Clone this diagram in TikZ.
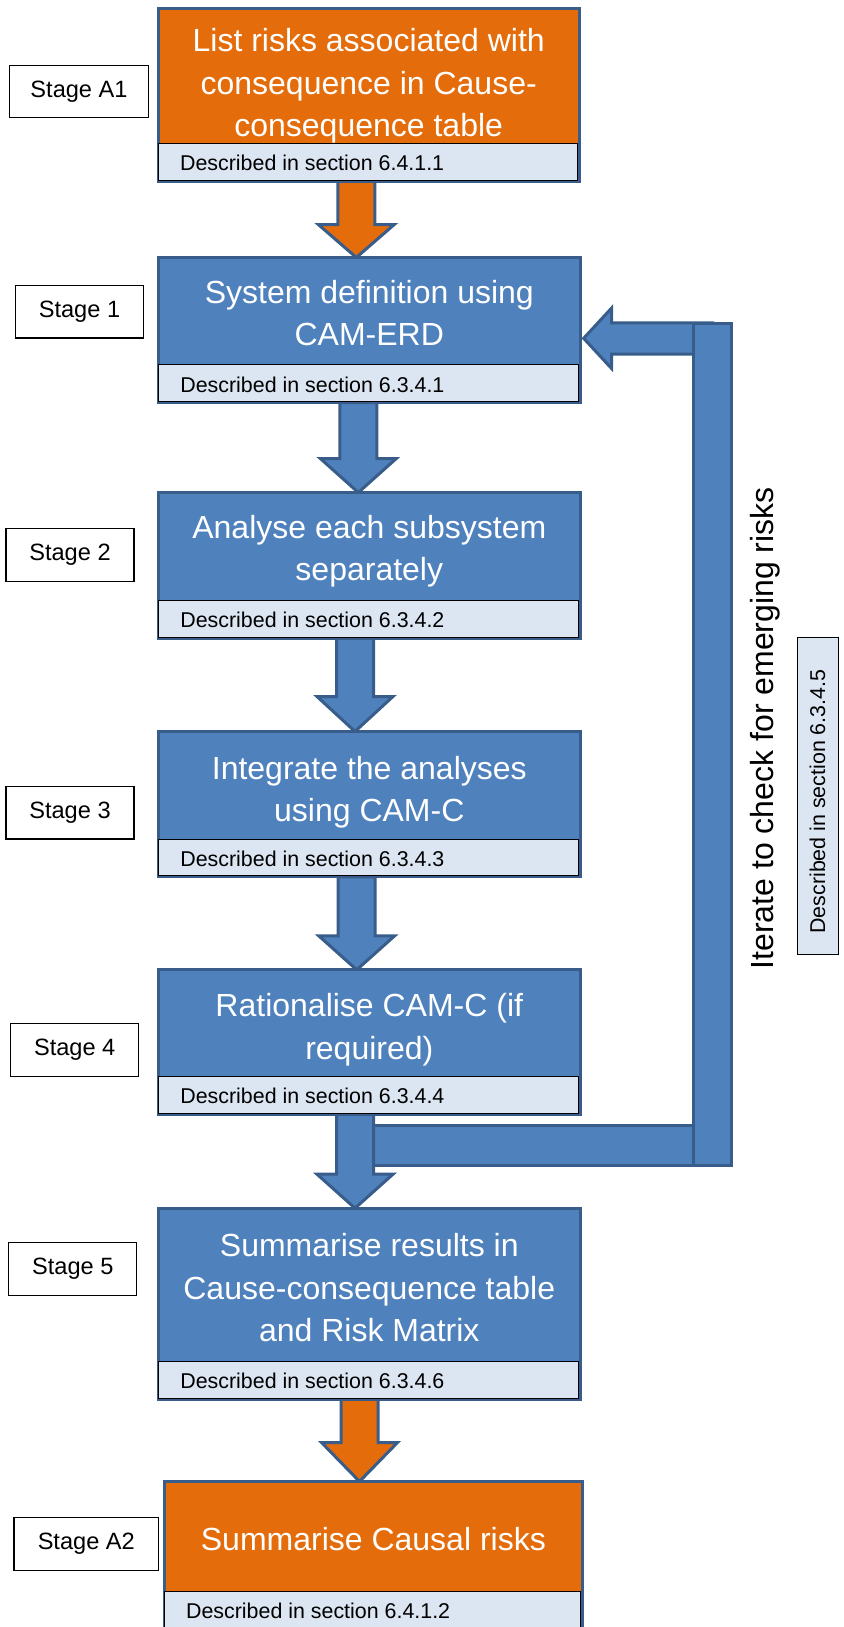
\documentclass[tikz,border=0pt]{standalone}
\usepackage{fontspec}
\setmainfont{Liberation Sans}
\usetikzlibrary{calc}
\definecolor{blueF}{RGB}{79,129,189}
\definecolor{borderC}{RGB}{56,93,138}
\definecolor{orangeF}{RGB}{228,108,10}
\definecolor{lightF}{RGB}{220,230,242}
\newcommand{\blockdown}[5]{%
  \draw[barrow, fill=#4] ($(#1.south -| #3)+(-18.5,0)$) -- ($(#2.north -| #3)+(-18.5,-#5)$) -- ($(#2.north -| #3)+(-38,-#5)$) -- (#2.north -| #3) -- ($(#2.north -| #3)+(38,-#5)$) -- ($(#2.north -| #3)+(18.5,-#5)$) -- ($(#1.south -| #3)+(18.5,0)$) -- cycle;}
\tikzset{
  bord/.style={draw=borderC, line width=1.5pt, line join=miter},
  bluebox/.style={bord, fill=blueF, rectangle, outer sep=0pt, inner sep=0pt, minimum width=210.85pt},
  orangebox/.style={bord, fill=orangeF, rectangle, outer sep=0pt, inner sep=0pt},
  stripbox/.style={draw=black, line width=0.5pt, fill=lightF, rectangle, outer sep=0pt, inner sep=0pt, minimum width=209.6pt, minimum height=18.4pt},
  stagebox/.style={draw=black, line width=0.6pt, fill=white, rectangle, minimum height=26.2pt, minimum width=64pt, inner sep=0pt, font=\fontsize{11.8}{14}\selectfont},
  maintext/.style={text=white, font=\fontsize{16}{21.25}\selectfont, inner sep=0pt, anchor=base},
  desctext/.style={font=\fontsize{10.7}{12.5}\selectfont, inner sep=0pt, anchor=base west},
  barrow/.style={draw=borderC, line width=1.5pt, fill=blueF, line join=miter},
}
\begin{document}
\begin{tikzpicture}[x=0.5pt,y=-0.5pt]
\useasboundingbox (0,0) rectangle (843,1627);
% boxes (defined first for naming; drawn later)
\path
  node[orangebox, minimum width=210.5pt, minimum height=86.2pt, anchor=north, draw=none, fill=none] (A1) at (368.7,8.8) {}
  node[bluebox, minimum height=72.5pt, anchor=north, draw=none, fill=none] (B1) at (369.3,257.5) {}
  node[bluebox, minimum height=72.75pt, anchor=north, draw=none, fill=none] (B2) at (369.3,492.5) {}
  node[bluebox, minimum height=72.65pt, anchor=north, draw=none, fill=none] (B3) at (369.3,731.5) {}
  node[bluebox, minimum height=72.2pt, anchor=north, draw=none, fill=none] (B4) at (369.3,969.8) {}
  node[bluebox, minimum height=95.5pt, anchor=north, draw=none, fill=none] (B5) at (369.3,1208.2) {}
  node[orangebox, minimum width=209.15pt, minimum height=79.25pt, anchor=north, draw=none, fill=none] (A2) at (373.35,1481.5) {};
\coordinate (ax1) at (356.3,0);
\coordinate (ax2) at (358.3,0);
\coordinate (ax3) at (355,0);
\coordinate (ax4) at (356.7,0);
\coordinate (ax5) at (355,0);
\coordinate (ax6) at (359.5,0);
\coordinate (fbT) at (712.5,338.3);
\coordinate (fbB) at (712.5,1145.85);
% feedback bottom bar
\draw[barrow] ($(B4.south -| ax5)+(15,11.3)$) rectangle ($(fbB)+(0,19.35)$);
% down arrows
\blockdown{A1}{B1}{ax1}{orangeF}{33}
\blockdown{B1}{B2}{ax2}{blueF}{34}
\blockdown{B2}{B3}{ax3}{blueF}{35}
\blockdown{B3}{B4}{ax4}{blueF}{34}
\blockdown{B4}{B5}{ax5}{blueF}{34}
\blockdown{B5}{A2}{ax6}{orangeF}{39}
% feedback top arrow into B1
\coordinate (tipT) at ($(B1.east |- fbT)+(3.5,0)$);
\draw[barrow] (tipT) -- ($(tipT)+(28,-30.3)$) -- ($(tipT)+(28,-15.4)$) -- ($(fbT)+(0,-15.4)$) -- ($(fbT)+(0,15.8)$) -- ($(tipT)+(28,15.8)$) -- ($(tipT)+(28,30.3)$) -- cycle;
% feedback vertical bar
\draw[barrow] ($(fbT)+(-19.3,-15.1)$) rectangle ($(fbB)+(19.3,19.35)$);
% boxes drawn
\foreach \n in {B1,B2,B3,B4,B5}{\draw[bord, fill=blueF] (\n.north west) rectangle (\n.south east);}
\foreach \n in {A1,A2}{\draw[bord, fill=orangeF] (\n.north west) rectangle (\n.south east);}
% strips
\node[stripbox, anchor=south west] (A1s) at ($(A1.south west)+(0.5,-1)$) {};
\node[stripbox, anchor=south west] (B1s) at ($(B1.south west)+(0.5,-1)$) {};
\node[stripbox, anchor=south west] (B2s) at ($(B2.south west)+(0.5,-1)$) {};
\node[stripbox, anchor=south west] (B3s) at ($(B3.south west)+(0.5,-1)$) {};
\node[stripbox, anchor=south west] (B4s) at ($(B4.south west)+(0.5,-1)$) {};
\node[stripbox, anchor=south west] (B5s) at ($(B5.south west)+(0.5,-1)$) {};
\node[stripbox, anchor=north west, minimum width=207.9pt, minimum height=24pt] (A2s) at ($(A2.north west)+(0.5,109.7)$) {};
\node[desctext] (A1d) at ($(A1s.north west)+(21,27.5)$) {Described in section 6.4.1.1};
\node[desctext] (B1d) at ($(B1s.north west)+(21,27.5)$) {Described in section 6.3.4.1};
\node[desctext] (B2d) at ($(B2s.north west)+(21,27.5)$) {Described in section 6.3.4.2};
\node[desctext] (B3d) at ($(B3s.north west)+(21,27.5)$) {Described in section 6.3.4.3};
\node[desctext] (B4d) at ($(B4s.north west)+(21,27.5)$) {Described in section 6.3.4.4};
\node[desctext] (B5d) at ($(B5s.north west)+(21,27.5)$) {Described in section 6.3.4.6};
\node[desctext] (A2d) at ($(A2s.north west)+(21,27.5)$) {Described in section 6.4.1.2};
% main texts
\node[maintext] (A1t) at ($(A1.north)+(0,42.9)$) {\begin{tabular}[t]{@{}c@{}}List risks associated with\\consequence in Cause-\\consequence table\end{tabular}};
\node[maintext] (B1t) at ($(B1.north)+(0,45.8)$) {\begin{tabular}[t]{@{}c@{}}System definition using\\CAM-ERD\end{tabular}};
\node[maintext] (B2t) at ($(B2.north)+(0,45.8)$) {\begin{tabular}[t]{@{}c@{}}Analyse each subsystem\\separately\end{tabular}};
\node[maintext] (B3t) at ($(B3.north)+(0,47.8)$) {\begin{tabular}[t]{@{}c@{}}Integrate the analyses\\using CAM-C\end{tabular}};
\node[maintext] (B4t) at ($(B4.north)+(0,46.9)$) {\begin{tabular}[t]{@{}c@{}}Rationalise CAM-C (if\\required)\end{tabular}};
\node[maintext] (B5t) at ($(B5.north)+(0,48.5)$) {\begin{tabular}[t]{@{}c@{}}Summarise results in\\Cause-consequence table\\and Risk Matrix\end{tabular}};
\node[maintext] (A2t) at ($(A2.north)+(0,68.5)$) {Summarise Causal risks};
% stage labels
\node[stagebox, minimum width=69.4pt] (SA1) at (79,91.5) {Stage A1};
\node[stagebox] (S1) at (79.5,311.7) {Stage 1};
\node[stagebox] (S2) at (70,555) {Stage 2};
\node[stagebox] (S3) at (70,812.7) {Stage 3};
\node[stagebox] (S4) at (74.7,1050) {Stage 4};
\node[stagebox] (S5) at (72.8,1269) {Stage 5};
\node[stagebox, minimum width=72.4pt] (SA2) at (86.3,1544) {Stage A2};
% iterate labels
\node[rotate=90, anchor=base, inner sep=0pt, font=\fontsize{16}{19}\selectfont] (iter) at (773,728.3) {Iterate to check for emerging risks};
\node[stripbox, rotate=90, minimum width=158.65pt, minimum height=20.8pt] (S6) at (818,795.85) {};
\node[desctext, rotate=90] (S6d) at (825,934) {Described in section 6.3.4.5};
\end{tikzpicture}
\end{document}
